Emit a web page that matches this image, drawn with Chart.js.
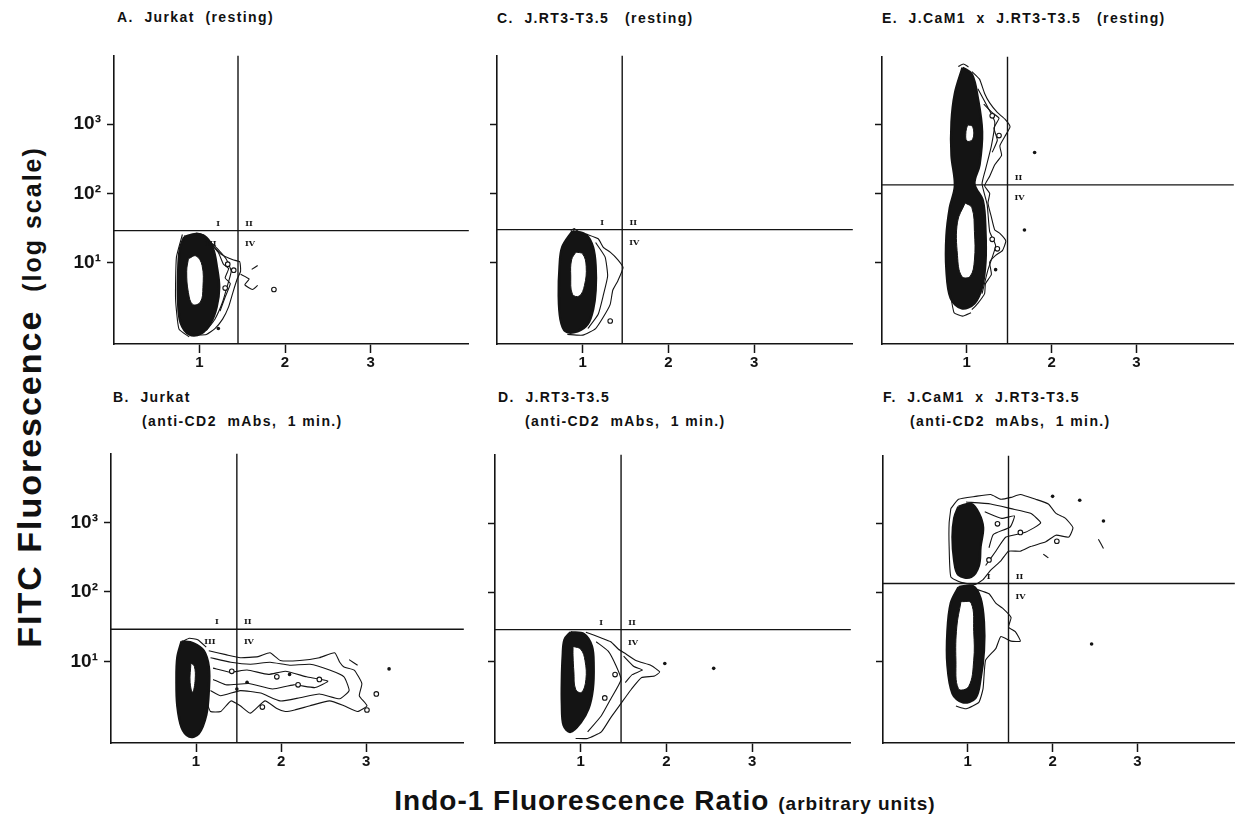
<!DOCTYPE html>
<html>
<head>
<meta charset="utf-8">
<title>Indo-1 / FITC contour plots</title>
<script src="https://cdn.jsdelivr.net/npm/chart.js@4.4.1/dist/chart.umd.min.js"></script>
<style>
  html, body { margin: 0; padding: 0; background: #fff; }
  body { position: relative; width: 1239px; height: 828px; overflow: hidden;
         font-family: "Liberation Sans", Arial, sans-serif; color: #111; }
  canvas { position: absolute; }
  .ttl { position: absolute; font-weight: bold; font-size: 14px; line-height: 16px;
         letter-spacing: 1.4px; white-space: pre; }
  #yTitle { position: absolute; left: 29px; top: 397px; white-space: pre; font-weight: bold;
            transform: translate(-50%, -50%) rotate(-90deg); }
  #xTitle { position: absolute; left: 665px; top: 801px; white-space: pre; font-weight: bold;
            transform: translate(-50%, -50%); }
  .big { font-size: 34px; letter-spacing: 2px; }
  .small { font-size: 25px; letter-spacing: 2px; }
  #xTitle .big { font-size: 28px; letter-spacing: 1px; }
  #xTitle .small { font-size: 19px; letter-spacing: 1px; }
</style>
</head>
<body>

<div class="ttl" style="left:117px;top:9px">A.  Jurkat  (resting)</div>
<div class="ttl" style="left:497px;top:10px">C.  J.RT3-T3.5   (resting)</div>
<div class="ttl" style="left:882px;top:10px">E.  J.CaM1  x  J.RT3-T3.5   (resting)</div>
<div class="ttl" style="left:113px;top:389px">B.  Jurkat</div>
<div class="ttl" style="left:142px;top:413px">(anti-CD2  mAbs,  1 min.)</div>
<div class="ttl" style="left:498px;top:389px">D.  J.RT3-T3.5</div>
<div class="ttl" style="left:525px;top:413px">(anti-CD2  mAbs,  1 min.)</div>
<div class="ttl" style="left:883px;top:389px">F.  J.CaM1  x  J.RT3-T3.5</div>
<div class="ttl" style="left:910px;top:413px">(anti-CD2  mAbs,  1 min.)</div>

<div id="yTitle"><span class="big">FITC Fluorescence</span>    <span class="small">(log scale)</span></div>
<div id="xTitle"><span class="big">Indo-1 Fluorescence Ratio</span>  <span class="small">(arbitrary units)</span></div>

<canvas id="pA"></canvas>
<canvas id="pC"></canvas>
<canvas id="pE"></canvas>
<canvas id="pB"></canvas>
<canvas id="pD"></canvas>
<canvas id="pF"></canvas>

<script>
// ── Axes ──────────────────────────────────────────────────────
const X_RANGE = [0, 4.15];
const Y_RANGE = [0.67, 9800];
const X_TICKS = [1, 2, 3];
const Y_TICKS = [10, 100, 1000];
const Y_TICK_LABELS = ['10¹', '10²', '10³'];

// ── Panel A: Jurkat (resting) ─────────────────────────────────
const A_GATE = [1.45, 29];
const A_CORES = [
  [[0.82,23.6],[0.96,25.9],[1.08,22.9],[1.16,15.6],[1.20,9.1],[1.23,4.4],[1.20,2.3],[1.13,1.35],[1.02,0.95],[0.88,0.92],[0.78,1.35],[0.75,2.7],[0.75,7.0],[0.77,15.6]]
];
const A_HOLES = [
  [[0.87,11.4],[0.96,12.5],[1.03,9.1],[1.04,4.4],[1.01,2.7],[0.92,2.5],[0.87,3.7],[0.85,7.5]]
];
const A_LINES = [
  [[0.96,26.8],[1.05,25.1],[1.13,19.5],[1.25,13.3],[1.39,11.0],[1.47,10.3],[1.48,7.5],[1.44,5.8],[1.39,3.7],[1.34,2.3],[1.27,1.53],[1.18,1.12],[1.08,0.92],[0.96,0.90]],
  [[1.02,25.1],[1.16,18.3],[1.31,11.4],[1.37,7.5],[1.32,4.4],[1.27,2.7],[1.18,1.53],[1.08,1.05]],
  [[1.10,21],[1.22,14],[1.28,9.5],[1.34,8.2],[1.30,6.0],[1.36,5.0],[1.30,3.2],[1.24,2.0]],
  [[0.80,25.5],[0.73,12],[0.72,3],[0.76,1.1],[0.88,0.85]],
  [[1.48,6.8],[1.58,5.8],[1.53,4.8],[1.62,4.1],[1.68,4.7]],
  [[1.61,8.0],[1.68,9.1]]
];
const A_DOTS = [[1.22,1.12]];
const A_OPEN = [[1.87,4.1],[1.40,7.8],[1.33,9.5],[1.30,4.3]];
const A_QUADS = ['I', 'II', 'III', 'IV'];

// ── Panel B: Jurkat (anti-CD2, 1 min) ─────────────────────────
const B_GATE = [1.48, 29];
const B_CORES = [
  [[0.83,19.4],[0.97,18.2],[1.09,14.2],[1.15,8.3],[1.15,3.8],[1.12,1.7],[1.03,0.91],[0.92,0.83],[0.83,1.13],[0.78,2.3],[0.77,5.2],[0.78,11.3]]
];
const B_HOLES = [
  [[0.94,9.5],[0.98,8.5],[0.99,5.5],[0.96,3.6],[0.93,5.0]]
];
const B_LINES = [
  [[1.15,14.2],[1.35,12.5],[1.52,11.3],[1.73,11.7],[1.87,13.3],[1.99,10.3],[2.22,10.3],[2.45,11.3],[2.63,13.3],[2.69,9.7],[2.74,8.3],[2.86,7.5],[2.95,4.8],[2.92,3.2],[3.01,2.3],[2.90,1.9],[2.74,2.3],[2.57,2.7],[2.34,2.3],[2.16,2.0],[2.05,1.9],[1.95,2.1],[1.81,2.7],[1.64,1.8],[1.52,2.3],[1.41,2.7],[1.29,1.9],[1.17,1.9],[1.12,2.7]],
  [[1.17,11.3],[1.41,9.7],[1.64,9.1],[1.87,9.7],[2.10,8.8],[2.34,9.1],[2.57,7.5],[2.74,6.0],[2.80,3.8],[2.69,2.9],[2.45,3.4],[2.22,3.0],[1.99,2.7],[1.76,3.5],[1.52,3.8],[1.29,3.2],[1.17,3.8]],
  [[1.20,8.0],[1.40,7.0],[1.60,7.5],[1.85,6.5],[2.05,7.2],[2.30,6.0],[2.55,5.2],[2.40,4.2],[2.15,4.6],[1.90,4.0],[1.62,4.8],[1.35,4.6],[1.20,5.5]],
  [[0.85,19.5],[0.92,21.5],[1.02,20.5],[1.12,16]],
  [[2.80,10.6],[2.90,8.8]]
];
const B_DOTS = [[3.27,7.8],[2.10,6.5],[1.60,5.0],[1.48,4.0]];
const B_OPEN = [[3.01,2.0],[3.12,3.4],[1.78,2.2],[2.45,5.5],[1.42,7.2],[2.20,4.6],[1.95,6.0]];
const B_QUADS = ['I', 'II', 'III', 'IV'];

// ── Panel C: J.RT3-T3.5 (resting) ─────────────────────────────
const C_GATE = [1.46, 30];
const C_CORES = [
  [[0.88,28.5],[1.04,25.1],[1.12,16.6],[1.15,8.8],[1.15,4.0],[1.12,2.1],[1.06,1.31],[0.94,1.02],[0.80,1.02],[0.74,1.53],[0.72,3.4],[0.73,8.8],[0.76,16.6]]
];
const C_HOLES = [
  [[0.92,14.2],[1.00,13.3],[1.04,8.8],[1.02,4.7],[0.96,3.3],[0.88,3.5],[0.86,6.4],[0.87,11.0]]
];
const C_LINES = [
  [[1.04,25.9],[1.18,22.1],[1.24,16.6],[1.32,14.2],[1.41,11.0],[1.47,8.5],[1.41,5.5],[1.35,4.0],[1.32,2.5],[1.24,1.64],[1.15,1.12],[1.00,0.90],[0.82,0.92]],
  [[1.15,19.5],[1.26,12.1],[1.29,6.4],[1.24,3.4],[1.18,1.8],[1.06,1.12]],
  [[0.86,29],[0.90,31],[0.95,28]]
];
const C_DOTS = [];
const C_OPEN = [[1.32,1.44]];
const C_QUADS = ['I', 'II', 'IV'];

// ── Panel D: J.RT3-T3.5 (anti-CD2, 1 min) ─────────────────────
const D_GATE = [1.47, 29];
const D_CORES = [
  [[0.88,26.6],[1.04,24.9],[1.13,16.6],[1.15,8.8],[1.14,4.0],[1.09,2.1],[1.00,1.33],[0.88,0.97],[0.80,1.21],[0.78,2.5],[0.78,5.5],[0.79,12.1],[0.81,20.7]]
];
const D_HOLES = [
  [[0.91,16.6],[1.00,15.1],[1.05,10.3],[1.06,5.5],[1.01,3.6],[0.94,4.0],[0.92,7.1],[0.91,12.1]]
];
const D_LINES = [
  [[1.06,26.6],[1.24,22.0],[1.35,19.4],[1.44,15.1],[1.51,13.3],[1.65,10.3],[1.82,8.8],[1.92,7.1],[1.86,6.2],[1.71,5.9],[1.59,4.0],[1.47,2.5],[1.35,1.56],[1.24,0.97],[1.08,0.78],[0.94,0.78]],
  [[1.18,19.4],[1.32,14.2],[1.41,8.8],[1.47,5.5],[1.35,2.9],[1.24,1.66],[1.08,0.97]],
  [[1.50,12.0],[1.62,8.5],[1.72,7.6],[1.60,6.5],[1.52,5.0]]
];
const D_DOTS = [[1.98,9.4],[2.55,8.0]];
const D_OPEN = [[1.40,6.5],[1.28,3.0]];
const D_QUADS = ['I', 'II', 'IV'];

// ── Panel E: J.CaM1 x J.RT3-T3.5 (resting) ────────────────────
const E_GATE = [1.48, 135];
const E_CORES = [
  [[0.95,6730],[1.06,5380],[1.13,2430],[1.18,800],[1.15,264],[1.09,140],[1.19,79],[1.22,28.5],[1.22,10.3],[1.18,4.5],[1.09,2.6],[0.94,2.2],[0.81,3.1],[0.76,8.0],[0.76,24.3],[0.80,63],[0.86,131],[0.82,362],[0.82,1100],[0.86,2850]]
];
const E_HOLES = [
  [[1.01,1000],[1.07,938],[1.07,621],[1.00,583],[0.99,800]],
  [[0.98,74],[1.06,63],[1.09,28.5],[1.09,11.0],[1.04,6.4],[0.94,6.4],[0.89,12.9],[0.89,39]]
];
const E_LINES = [
  [[1.06,5920],[1.15,4590],[1.21,2850],[1.27,2080],[1.36,1510],[1.45,1210],[1.51,938],[1.45,682],[1.39,497],[1.41,362],[1.33,264],[1.27,180],[1.21,131],[1.27,102],[1.25,74],[1.29,46],[1.33,30],[1.39,26.8],[1.46,20.8],[1.42,15.1],[1.34,12.9],[1.27,10.3],[1.29,6.8],[1.22,5.0],[1.21,3.6],[1.13,2.6],[1.06,2.1]],
  [[1.13,3340],[1.25,1770],[1.33,1100],[1.29,497],[1.22,225],[1.18,140],[1.24,70],[1.27,28.5],[1.34,17.7],[1.25,8.0],[1.18,3.6]],
  [[1.20,2000],[1.30,1500],[1.38,1250],[1.32,900],[1.36,600],[1.30,400]],
  [[0.90,7000],[0.96,7600],[1.02,6900]],
  [[0.80,4.0],[0.85,1.9],[0.95,1.7],[1.05,1.9]]
];
const E_DOTS = [[1.80,398],[1.68,30],[1.34,8.0]];
const E_OPEN = [[1.30,1350],[1.38,700],[1.36,16],[1.30,22]];
const E_QUADS = ['II', 'IV'];

// ── Panel F: J.CaM1 x J.RT3-T3.5 (anti-CD2, 1 min) ────────────
const F_GATE = [1.48, 137];
const F_CORES = [
  [[0.89,1770],[1.04,1940],[1.13,1420],[1.18,880],[1.15,469],[1.13,249],[1.04,171],[0.89,182],[0.84,292],[0.82,643],[0.84,1210]],
  [[0.89,121],[1.06,125],[1.15,83],[1.19,37.6],[1.19,14.6],[1.15,5.7],[1.09,3.0],[0.94,2.6],[0.82,3.5],[0.76,9.1],[0.76,27.4],[0.80,71]]
];
const F_HOLES = [
  [[0.92,75],[1.04,71],[1.07,27.4],[1.07,10.6],[1.01,4.4],[0.89,4.1],[0.86,10.6],[0.87,32]]
];
const F_LINES = [
  [[0.80,1660],[0.89,2270],[1.09,2500],[1.27,2660],[1.39,2270],[1.51,2420],[1.62,2660],[1.80,2270],[1.95,1940],[2.04,1420],[2.15,1210],[2.24,880],[2.19,643],[2.04,685],[1.92,550],[1.74,469],[1.62,401],[1.48,401],[1.39,292],[1.27,213],[1.18,156],[1.09,133],[0.92,142],[0.80,171],[0.78,469],[0.78,1030],[0.80,1660]],
  [[0.98,2070],[1.27,1940],[1.51,1660],[1.74,1420],[1.86,1030],[1.68,753],[1.45,643],[1.33,401],[1.21,249]],
  [[1.20,1500],[1.40,1200],[1.55,1300],[1.50,900],[1.30,700],[1.25,450]],
  [[1.09,114],[1.25,97],[1.33,71],[1.41,60],[1.51,44],[1.48,32],[1.56,27.4],[1.62,20],[1.51,20],[1.39,23.4],[1.33,15.6],[1.21,10.6],[1.18,4.1],[1.13,2.6],[0.98,2.1],[0.86,2.3]],
  [[2.54,600],[2.60,440]],
  [[1.89,365],[1.95,321]]
];
const F_DOTS = [[2.00,2500],[2.32,2200],[2.60,1100],[2.46,18.2]];
const F_OPEN = [[1.35,1000],[1.62,750],[1.25,300],[2.05,560]];
const F_QUADS = ['I', 'II', 'IV'];

// ── Helpers ───────────────────────────────────────────────────
const INK = '#141414';
const toXY = arr => arr.map(p => ({ x: p[0], y: p[1] }));
const closed = arr => toXY(arr.concat([arr[0]]));

const quadLabels = {
  id: 'quadLabels',
  afterDatasetsDraw(chart, args, opts) {
    const { ctx, scales } = chart;
    const gx = scales.x.getPixelForValue(opts.gate[0]);
    const gy = scales.y.getPixelForValue(opts.gate[1]);
    const off = { I: [-20, -7], II: [11, -7], III: [-27, 13], IV: [12, 13] };
    ctx.save();
    ctx.font = 'bold 8px "DejaVu Serif", serif';
    ctx.fillStyle = INK;
    ctx.textAlign = 'center';
    ctx.textBaseline = 'middle';
    opts.labels.forEach(l => ctx.fillText(l, gx + off[l][0], gy + off[l][1]));
    ctx.restore();
  }
};

function buildDatasets(gate, cores, holes, lines, dots, open) {
  const ds = [];
  ds.push({ data: toXY([[gate[0], Y_RANGE[0]], [gate[0], Y_RANGE[1]]]), borderColor: INK, borderWidth: 1.4, order: 1 });
  ds.push({ data: toXY([[X_RANGE[0], gate[1]], [X_RANGE[1], gate[1]]]), borderColor: INK, borderWidth: 1.4, order: 1 });
  dots.length && ds.push({ data: toXY(dots), showLine: false, pointRadius: 1.8, pointBackgroundColor: INK, pointBorderWidth: 0, order: 0 });
  open.length && ds.push({ data: toXY(open), showLine: false, pointRadius: 2.3, pointBackgroundColor: '#fff', pointBorderColor: INK, pointBorderWidth: 1.1, order: 0 });
  holes.forEach(h => ds.push({ data: closed(h), fill: 'shape', backgroundColor: '#fff', borderColor: INK, borderWidth: 1, tension: 0.4, order: 2 }));
  cores.forEach(c => ds.push({ data: closed(c), fill: 'shape', backgroundColor: INK, borderColor: INK, borderWidth: 2.5, tension: 0.35, order: 3 }));
  lines.forEach(l => ds.push({ data: toXY(l), borderColor: INK, borderWidth: 1.1, tension: 0.15, order: 4 }));
  return ds;
}

// ── Render one panel ──────────────────────────────────────────
const Y_AXIS_W = 60, X_AXIS_H = 40, PAD_T = 4, PAD_R = 4;

function renderPanel(id, area, showYLabels, data) {
  const canvas = document.getElementById(id);
  canvas.width = Y_AXIS_W + area.w + PAD_R;
  canvas.height = PAD_T + area.h + X_AXIS_H;
  canvas.style.left = (area.left - Y_AXIS_W) + 'px';
  canvas.style.top = (area.top - PAD_T) + 'px';

  const tickFont = { family: '"Liberation Sans", Arial, sans-serif', size: 15, weight: 'bold' };
  const yFont = { family: '"Liberation Sans", Arial, sans-serif', size: 19, weight: 'bold' };
  const gridOpts = { display: true, drawOnChartArea: false, drawTicks: true, tickColor: INK, tickWidth: 1.5, color: INK };

  new Chart(canvas, {
    type: 'scatter',
    data: { datasets: buildDatasets(data.gate, data.cores, data.holes, data.lines, data.dots, data.open) },
    options: {
      responsive: false,
      animation: false,
      events: [],
      layout: { padding: { top: PAD_T, right: PAD_R, left: 0, bottom: 0 } },
      elements: { point: { radius: 0 }, line: { fill: false } },
      datasets: { scatter: { showLine: true } },
      plugins: {
        legend: { display: false },
        tooltip: { enabled: false },
        quadLabels: { gate: data.gate, labels: data.quads }
      },
      scales: {
        x: {
          type: 'linear', min: X_RANGE[0], max: X_RANGE[1], bounds: 'data',
          border: { display: true, color: INK, width: 1.6 },
          grid: Object.assign({ tickLength: 9 }, gridOpts),
          afterBuildTicks: s => { s.ticks = X_TICKS.map(v => ({ value: v })); },
          afterFit: s => { s.height = X_AXIS_H; },
          ticks: { color: INK, font: tickFont, padding: 1, autoSkip: false, maxRotation: 0, callback: v => String(v) }
        },
        y: {
          type: 'logarithmic', min: Y_RANGE[0], max: Y_RANGE[1], bounds: 'data',
          border: { display: true, color: INK, width: 1.6 },
          grid: Object.assign({ tickLength: 7 }, gridOpts),
          afterBuildTicks: s => { s.ticks = Y_TICKS.map(v => ({ value: v })); },
          afterFit: s => { s.width = Y_AXIS_W; },
          ticks: {
            color: INK, font: yFont, padding: 6, autoSkip: false,
            callback: (v, i) => showYLabels ? Y_TICK_LABELS[i] : ''
          }
        }
      }
    },
    plugins: [quadLabels]
  });
}

// ── Init ──────────────────────────────────────────────────────
function initFigure() {
  renderPanel('pA', { left: 114, top: 42, w: 356, h: 302 }, true,
    { gate: A_GATE, cores: A_CORES, holes: A_HOLES, lines: A_LINES, dots: A_DOTS, open: A_OPEN, quads: A_QUADS });
  renderPanel('pC', { left: 497, top: 42, w: 357, h: 302 }, false,
    { gate: C_GATE, cores: C_CORES, holes: C_HOLES, lines: C_LINES, dots: C_DOTS, open: C_OPEN, quads: C_QUADS });
  renderPanel('pE', { left: 882, top: 43, w: 353, h: 301 }, false,
    { gate: E_GATE, cores: E_CORES, holes: E_HOLES, lines: E_LINES, dots: E_DOTS, open: E_OPEN, quads: E_QUADS });
  renderPanel('pB', { left: 111, top: 440, w: 354, h: 303 }, true,
    { gate: B_GATE, cores: B_CORES, holes: B_HOLES, lines: B_LINES, dots: B_DOTS, open: B_OPEN, quads: B_QUADS });
  renderPanel('pD', { left: 495, top: 441, w: 357, h: 302 }, false,
    { gate: D_GATE, cores: D_CORES, holes: D_HOLES, lines: D_LINES, dots: D_DOTS, open: D_OPEN, quads: D_QUADS });
  renderPanel('pF', { left: 883, top: 442, w: 353, h: 301 }, false,
    { gate: F_GATE, cores: F_CORES, holes: F_HOLES, lines: F_LINES, dots: F_DOTS, open: F_OPEN, quads: F_QUADS });
}

document.addEventListener('DOMContentLoaded', initFigure);
</script>
</body>
</html>
